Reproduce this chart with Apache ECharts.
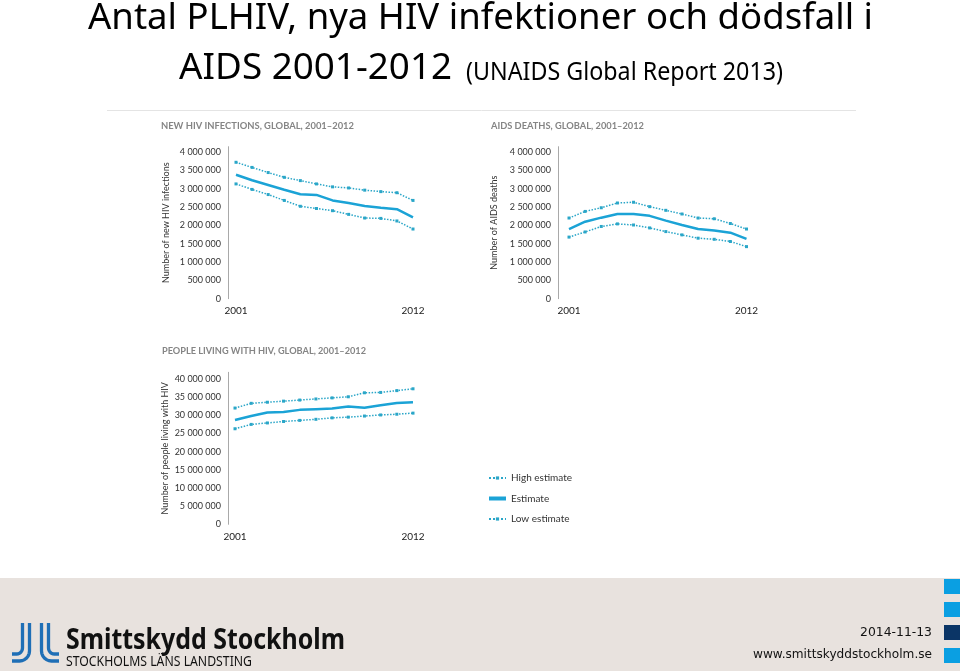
<!DOCTYPE html>
<html>
<head>
<meta charset="utf-8">
<script src="https://cdn.jsdelivr.net/npm/echarts@6/dist/echarts.min.js"></script>
<style>
  html, body { margin: 0; padding: 0; background: #fff; }
  #chart { width: 960px; height: 671px; }
</style>
</head>
<body>
<div id="chart"></div>
<script>
const years = ['2001', '2002', '2003', '2004', '2005', '2006', '2007', '2008', '2009', '2010', '2011', '2012'];

// new HIV infections (millions)
const newInfHigh = [3.72, 3.58, 3.44, 3.31, 3.22, 3.13, 3.05, 3.02, 2.96, 2.92, 2.89, 2.68];
const newInfEst = [3.38, 3.23, 3.10, 2.97, 2.85, 2.83, 2.68, 2.61, 2.53, 2.48, 2.44, 2.22];
const newInfLow = [3.13, 2.98, 2.84, 2.68, 2.52, 2.46, 2.40, 2.30, 2.20, 2.19, 2.12, 1.90];

// AIDS deaths (millions)
const deathsHigh = [2.20, 2.38, 2.48, 2.61, 2.63, 2.51, 2.41, 2.31, 2.20, 2.18, 2.05, 1.90];
const deathsEst = [1.90, 2.10, 2.21, 2.31, 2.31, 2.26, 2.13, 2.01, 1.90, 1.86, 1.80, 1.63];
const deathsLow = [1.68, 1.82, 1.97, 2.04, 2.01, 1.93, 1.83, 1.74, 1.65, 1.62, 1.56, 1.42];

// people living with HIV (millions)
const plhivHigh = [32.0, 33.3, 33.6, 33.9, 34.2, 34.5, 34.8, 35.1, 36.2, 36.3, 36.8, 37.3];
const plhivEst = [28.7, 29.8, 30.8, 30.9, 31.5, 31.7, 31.9, 32.4, 32.1, 32.8, 33.4, 33.6];
const plhivLow = [26.3, 27.5, 27.9, 28.3, 28.6, 28.9, 29.3, 29.5, 29.8, 30.1, 30.3, 30.6];

const legendNames = ['High estimate', 'Estimate', 'Low estimate'];
const chartTitles = [
  'NEW HIV INFECTIONS, GLOBAL, 2001–2012',
  'AIDS DEATHS, GLOBAL, 2001–2012',
  'PEOPLE LIVING WITH HIV, GLOBAL, 2001–2012'
];
const axisNames = ['Number of new HIV infections', 'Number of AIDS deaths', 'Number of people living with HIV'];

const M = 1e6;
const toAbs = arr => arr.map(v => Math.round(v * M));

const LINE = '#1ba3d6';
const DOT = '#2aa6c8';
const LABEL_FONT = 'Lato';

function fmt(v) {
  return String(v).replace(/\B(?=(\d{3})+(?!\d))/g, ' ');
}

// width of a string, used to squeeze installed fonts to the slide's Calibri widths
const measureCtx = document.createElement('canvas').getContext('2d');
function textW(str, font) {
  measureCtx.font = font;
  return measureCtx.measureText(str).width;
}
function fitText(str, x, y, width, size, weight, family, color) {
  const font = weight + ' ' + size + 'px "' + family + '"';
  return {
    type: 'text', x: x, y: y, scaleX: width / textW(str, font),
    style: { text: str, font: font, fill: color, verticalAlign: 'middle' }
  };
}

// logo stroke: straight bar bending sideways at the bottom
function logoStroke(x, yTop, yBend, r, dir, xEnd) {
  const pts = [[x, yTop], [x, yBend]];
  for (let a = 1; a <= 6; a++) {
    const t = a / 6 * Math.PI / 2;
    pts.push([x + dir * (r - r * Math.cos(t)), yBend + r * Math.sin(t)]);
  }
  pts.push([xEnd, yBend + r]);
  return { type: 'polyline', shape: { points: pts }, style: { stroke: '#1f6fb6', lineWidth: 3.3, fill: null } };
}

const grids = [
  { left: 236, top: 146.7, width: 177, height: 152 },
  { left: 569, top: 146.7, width: 177.5, height: 152 },
  { left: 235, top: 372.3, width: 178, height: 152 }
];
const yOffsets = [8, 11, 7];
const yMax = [4.145 * M, 4.145 * M, 41.84 * M];
const yStep = [0.5 * M, 0.5 * M, 5 * M];
const nameGaps = [57, 59, 58];

const xAxes = grids.map((g, i) => ({
  type: 'category', gridIndex: i, data: years, boundaryGap: false,
  axisLine: { show: false }, axisTick: { show: false },
  axisLabel: {
    interval: (idx) => idx === 0 || idx === years.length - 1,
    color: '#222', fontFamily: LABEL_FONT, fontSize: 10, margin: 7
  }
}));

const yAxes = grids.map((g, i) => ({
  type: 'value', gridIndex: i, min: 0, max: yMax[i], interval: yStep[i],
  offset: yOffsets[i],
  name: axisNames[i], nameLocation: 'middle', nameRotate: 90, nameGap: nameGaps[i],
  nameTextStyle: { color: '#333', fontFamily: LABEL_FONT, fontSize: 9 },
  axisLine: { show: true, lineStyle: { color: '#a9a9a9', width: 1 } },
  axisTick: { show: false }, splitLine: { show: false },
  axisLabel: { color: '#333', fontFamily: LABEL_FONT, fontSize: 9, margin: 7, showMaxLabel: false, formatter: fmt }
}));

const groups = [
  [newInfHigh, newInfEst, newInfLow],
  [deathsHigh, deathsEst, deathsLow],
  [plhivHigh, plhivEst, plhivLow]
];

const series = [];
groups.forEach((grp, i) => {
  grp.forEach((arr, k) => {
    const est = k === 1;
    series.push({
      name: legendNames[k], type: 'line', xAxisIndex: i, yAxisIndex: i,
      data: toAbs(arr),
      symbol: est ? 'none' : 'rect', symbolSize: 3, showSymbol: !est,
      lineStyle: est ? { color: LINE, width: 2.5 } : { color: DOT, width: 1.5, type: 'dotted' },
      itemStyle: { color: est ? LINE : DOT },
      emphasis: { disabled: true }, z: est ? 3 : 2
    });
  });
});

const graphics = [
  // slide heading
  fitText('Antal PLHIV, nya HIV infektioner och dödsfall i', 88, 19, 785, 36, 'normal', 'Noto Sans', '#000'),
  fitText('AIDS 2001-2012', 179, 69, 273, 36, 'normal', 'Noto Sans', '#000'),
  fitText('(UNAIDS Global Report 2013)', 466, 73, 317, 25, 'normal', 'Noto Sans', '#000'),
  // thin separator above the charts
  { type: 'line', shape: { x1: 107, y1: 110.5, x2: 856, y2: 110.5 }, style: { stroke: '#e4e4e4', lineWidth: 1 } },
  // chart headings
  fitText(chartTitles[0], 161, 126, 193, 10, 'bold', 'Lato', '#858585'),
  fitText(chartTitles[1], 491, 126, 153, 10, 'bold', 'Lato', '#858585'),
  fitText(chartTitles[2], 162, 351, 204, 10, 'bold', 'Lato', '#858585'),
  // footer band
  { type: 'rect', shape: { x: 0, y: 578, width: 960, height: 93 }, style: { fill: '#e8e2de' }, z: -1 },
  // logo strokes
  logoStroke(22.5, 623, 648, 6, -1, 12),
  logoStroke(29.5, 623, 651, 10, -1, 12),
  logoStroke(41.5, 623, 651, 10, 1, 59),
  logoStroke(48.5, 623, 648, 6, 1, 59),
  fitText('Smittskydd Stockholm', 66, 641, 279, 28, 'bold', 'Noto Sans', '#111'),
  fitText('STOCKHOLMS LÄNS LANDSTING', 66, 662, 186, 13.5, 'normal', 'Noto Sans', '#111'),
  fitText('2014-11-13', 860, 632.5, 72, 13, 'normal', 'DejaVu Sans', '#111'),
  fitText('www.smittskyddstockholm.se', 753, 655, 179, 13, 'normal', 'DejaVu Sans', '#111'),
  // edge squares
  { type: 'rect', shape: { x: 944, y: 579, width: 16, height: 15 }, style: { fill: '#0a9fe2' } },
  { type: 'rect', shape: { x: 944, y: 602, width: 16, height: 15 }, style: { fill: '#0a9fe2' } },
  { type: 'rect', shape: { x: 944, y: 625, width: 16, height: 15 }, style: { fill: '#0b3566' } },
  { type: 'rect', shape: { x: 944, y: 648, width: 16, height: 15 }, style: { fill: '#0a9fe2' } }
];

const chart = echarts.init(document.getElementById('chart'), null, { renderer: 'canvas' });
chart.setOption({
  backgroundColor: '#ffffff',
  animation: false,
  grid: grids,
  xAxis: xAxes,
  yAxis: yAxes,
  legend: {
    orient: 'vertical', left: 488, top: 472, padding: 0, selectedMode: false,
    itemWidth: 17, itemHeight: 4, itemGap: 8.5,
    data: [{ name: 'High estimate' }, { name: 'Estimate', icon: 'rect' }, { name: 'Low estimate' }],
    textStyle: { color: '#333', fontFamily: LABEL_FONT, fontSize: 10, lineHeight: 12 }
  },
  series: series,
  graphic: graphics
});
</script>
</body>
</html>
